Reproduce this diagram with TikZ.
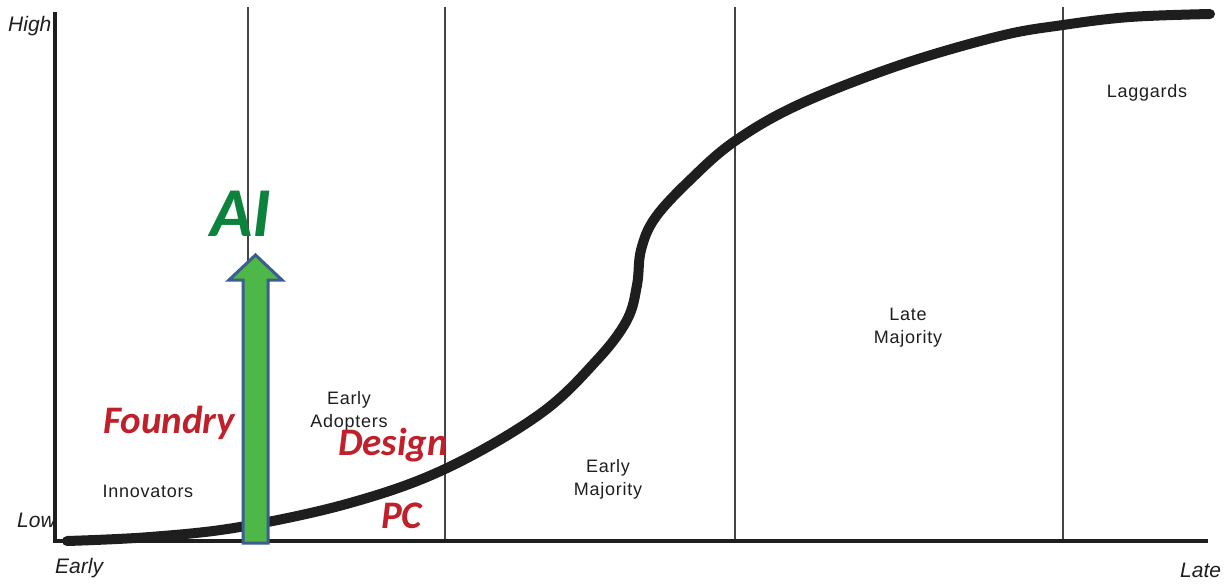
\documentclass[tikz,border=0pt]{standalone}
\usepackage{fontspec}
\setmainfont{Liberation Sans}
\newfontfamily\callab{Carlito}
\newfontfamily\seglab[LetterSpace=4]{Liberation Sans}
\definecolor{axisc}{HTML}{1E1E1E}
\definecolor{divc}{HTML}{444444}
\definecolor{redlab}{HTML}{C0202A}
\definecolor{ailab}{HTML}{0C823C}
\definecolor{arrowfill}{HTML}{4DB748}
\definecolor{arrowedge}{HTML}{3B5E8F}
\tikzset{
  axislab/.style={font=\fontsize{21}{21}\selectfont\itshape, text=axisc, inner sep=0pt},
  seglabel/.style={font=\seglab\fontsize{18}{23}\selectfont, text=axisc, inner sep=0pt, align=center},
  hot/.style={font=\callab\fontsize{39}{39}\selectfont\bfseries\itshape, text=redlab, inner sep=0pt},
  divider/.style={draw=divc, line width=1.5pt},
  axisline/.style={draw=axisc, line width=4pt},
  scurve/.style={draw=axisc, line width=10pt, line cap=round, line join=round},
}
\begin{document}
\begin{tikzpicture}[x=1pt,y=-1pt]
\useasboundingbox (0,0) rectangle (1232,584);
% dividers
\coordinate (d1t) at (248,7);   \coordinate (d1b) at (248,540);
\coordinate (d2t) at (445,7);   \coordinate (d2b) at (445,540);
\coordinate (d3t) at (735,7);   \coordinate (d3b) at (735,540);
\coordinate (d4t) at (1063,7);  \coordinate (d4b) at (1063,540);
\draw[divider] (d1t) -- (d1b);
\draw[divider] (d2t) -- (d2b);
\draw[divider] (d3t) -- (d3b);
\draw[divider] (d4t) -- (d4b);
% axes
\coordinate (ytop) at (55,12);
\coordinate (origin) at (55,541);
\coordinate (xend) at (1208,541);
\draw[axisline] (ytop) -- (origin) -- (xend);
% S-curve
\draw[scurve] plot[smooth, tension=0.6] coordinates {
 (67,541) (150,537) (240,527) (350,503) (445,469) (540,414) (597,360)
 (627,320) (637,285) (641,250) (655,218) (690,180) (735,141) (800,104)
 (900,65) (1000,36) (1063,25) (1130,17) (1210,14)};
% axis labels
\node[axislab, anchor=base west] (high) at (8,31) {High};
\node[axislab, anchor=base west] (low) at (17,527) {Low};
\node[axislab, anchor=base west] (early) at (55,573) {Early};
\node[axislab, anchor=base west] (late) at (1180,577) {Late};
% segment labels
\node[seglabel, anchor=base] (innov) at (148,497) {Innovators};
\node[seglabel] (adopt) at (349,411) {Early\\Adopters};
\node[seglabel] (emaj) at (608,479) {Early\\Majority};
\node[seglabel] (lmaj) at (908,328) {Late\\Majority};
\node[seglabel, anchor=base] (lagg) at (1147,97) {Laggards};
% arrow
\coordinate (a1) at (243,543); \coordinate (a2) at (243,280); \coordinate (a3) at (229,280);
\coordinate (a4) at (255.5,255); \coordinate (a5) at (282,280); \coordinate (a6) at (268,280);
\coordinate (a7) at (268,543);
\draw[fill=arrowfill, draw=arrowedge, line width=3pt, line join=miter]
  (a1) -- (a2) -- (a3) -- (a4) -- (a5) -- (a6) -- (a7) -- cycle;
% highlighted labels
\node[hot, anchor=base west] (foundry) at (103,433) {Foundry};
\node[hot, anchor=base west] (design) at (338,455) {Design};
\node[hot, anchor=base west] (pc) at (381,528) {PC};
\node[font=\callab\fontsize{70}{70}\selectfont\bfseries\itshape, text=ailab, inner sep=0pt, anchor=base west] (ai) at (210,236) {AI};
\end{tikzpicture}
\end{document}
